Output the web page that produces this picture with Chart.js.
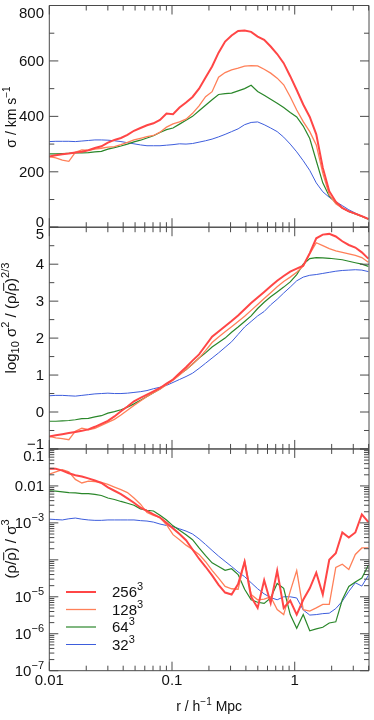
<!DOCTYPE html>
<html>
<head>
<meta charset="utf-8">
<script src="https://cdn.jsdelivr.net/npm/chart.js@4.4.1/dist/chart.umd.min.js"></script>
<style>
  html, body { margin: 0; padding: 0; background: #fff; }
  #wrap { position: relative; width: 374px; height: 720px; }
</style>
</head>
<body>
<div id="wrap"><canvas id="profiles" width="374" height="720"></canvas></div>
<script>
// radial bins, r in h^-1 Mpc
const radii = [0.01000, 0.01130, 0.01277, 0.01443, 0.01630, 0.01842, 0.02082, 0.02352, 0.02658, 0.03003,
  0.03394, 0.03835, 0.04333, 0.04897, 0.05533, 0.06252, 0.07063, 0.07980, 0.09018, 0.1019,
  0.1151, 0.1301, 0.1470, 0.1661, 0.1877, 0.2121, 0.2396, 0.2708, 0.3059, 0.3457,
  0.3906, 0.4413, 0.4987, 0.5636, 0.6368, 0.7195, 0.8130, 0.9189, 1.038, 1.173,
  1.326, 1.498, 1.693, 1.912, 2.161, 2.442, 2.759, 3.118, 3.523, 3.981];

const seriesNames = ['256', '128', '64', '32'];
const seriesColors = ['#ff4646', '#ff8059', '#2a872a', '#3d5ddc'];
const seriesWidths = [2, 1.3, 1.2, 1];

// top panel: sigma / km s^-1
const sigma256 = [255, 260, 263, 266, 270, 272, 278, 286, 292, 305, 315, 322, 333, 348, 358, 368, 375, 387, 410, 408,
  432, 450, 470, 500, 540, 580, 630, 670, 692, 708, 710, 705, 688, 676, 652, 625, 592, 545, 495, 443,
  398, 335, 215, 130, 92, 70, 57, 49, 40, 30];
const sigma128 = [255, 250, 242, 238, 270, 279, 277, 282, 285, 289, 291, 298, 306, 315, 321, 327, 331, 343, 361, 373,
  380, 390, 411, 438, 471, 489, 541, 558, 568, 574, 581, 583, 582, 570, 556, 538, 514, 471, 423, 381,
  345, 297, 195, 117, 85, 69, 57, 48, 39, 29];
const sigma64 = [265, 265, 266, 267, 268, 268, 269, 272, 274, 282, 287, 293, 300, 308, 314, 322, 330, 342, 352, 358,
  372, 386, 400, 420, 440, 460, 479, 482, 484, 492, 500, 512, 490, 476, 462, 447, 432, 414, 398, 365,
  320, 240, 160, 112, 88, 69, 57, 48, 39, 29];
const sigma32 = [309, 310, 310, 310, 309, 311, 313, 315, 315, 314, 312, 309, 305, 301, 297, 294, 294, 294, 296, 298,
  301, 300, 302, 307, 312, 318, 326, 335, 345, 355, 370, 378, 380, 370, 358, 345, 325, 300, 272, 240,
  205, 160, 128, 108, 92, 78, 63, 51, 40, 30];

// middle panel: log10 sigma^2 / (rho/rhobar)^(2/3)
const logS256 = [-0.66, -0.63, -0.60, -0.57, -0.54, -0.51, -0.47, -0.40, -0.32, -0.24, -0.12, 0.02, 0.15, 0.29, 0.38, 0.47, 0.56, 0.65, 0.77, 0.88,
  1.05, 1.21, 1.39, 1.56, 1.80, 2.04, 2.18, 2.32, 2.46, 2.61, 2.78, 2.95, 3.10, 3.25, 3.40, 3.55, 3.68, 3.80, 3.88, 3.96,
  4.30, 4.70, 4.80, 4.82, 4.75, 4.62, 4.52, 4.45, 4.32, 4.15];
const logS128 = [-0.66, -0.70, -0.72, -0.75, -0.52, -0.44, -0.48, -0.44, -0.36, -0.28, -0.20, -0.08, 0.05, 0.18, 0.30, 0.42, 0.52, 0.62, 0.74, 0.86,
  1.00, 1.15, 1.30, 1.46, 1.66, 1.88, 2.03, 2.17, 2.31, 2.45, 2.59, 2.75, 2.91, 3.07, 3.23, 3.39, 3.53, 3.65, 3.78, 3.95,
  4.28, 4.58, 4.50, 4.42, 4.36, 4.32, 4.28, 4.24, 4.18, 4.05];
const logS64 = [-0.25, -0.25, -0.24, -0.23, -0.21, -0.18, -0.17, -0.13, -0.10, -0.03, 0.01, 0.06, 0.13, 0.22, 0.32, 0.42, 0.52, 0.62, 0.75, 0.88,
  1.02, 1.14, 1.30, 1.46, 1.60, 1.76, 1.88, 2.00, 2.16, 2.30, 2.45, 2.60, 2.80, 2.97, 3.12, 3.25, 3.38, 3.52, 3.72, 4.00,
  4.15, 4.18, 4.17, 4.16, 4.14, 4.12, 4.08, 4.04, 4.00, 3.94];
const logS32 = [0.44, 0.45, 0.45, 0.44, 0.43, 0.45, 0.47, 0.49, 0.50, 0.51, 0.50, 0.50, 0.51, 0.53, 0.55, 0.58, 0.63, 0.67, 0.72, 0.80,
  0.88, 0.96, 1.05, 1.18, 1.32, 1.46, 1.60, 1.75, 1.90, 2.10, 2.30, 2.45, 2.60, 2.72, 2.90, 3.05, 3.22, 3.38, 3.55, 3.65,
  3.70, 3.72, 3.75, 3.78, 3.81, 3.83, 3.84, 3.85, 3.84, 3.80];

// bottom panel: (rho/rhobar) / sigma^3
const ratio256 = [2.9e-2, 2.9e-2, 2.6e-2, 2.2e-2, 1.95e-2, 1.8e-2, 1.6e-2, 1.4e-2, 1.2e-2, 9.1e-3,
  7.4e-3, 6.0e-3, 4.6e-3, 3.5e-3, 2.6e-3, 2.1e-3, 1.7e-3, 1.4e-3, 1.0e-3, 7.1e-4,
  5.0e-4, 3.4e-4, 1.9e-4, 1.07e-4, 6.5e-5, 3.8e-5, 2.1e-5, 1.3e-5, 1.15e-5, 2.2e-5,
  8.9e-5, 1.0e-5, 5.0e-6, 2.8e-5, 6.8e-6, 5.1e-5, 5.0e-6, 7.9e-6, 3.3e-6, 8.3e-6,
  1.7e-5, 4.5e-5, 1.15e-5, 1.0e-4, 1.5e-4, 5.5e-4, 4.0e-4, 5.5e-4, 1.7e-3, 1.05e-3];
const ratio128 = [2.1e-2, 2.4e-2, 2.75e-2, 2.4e-2, 1.5e-2, 1.2e-2, 1.35e-2, 1.3e-2, 1.25e-2, 1.1e-2,
  9.3e-3, 7.9e-3, 6.6e-3, 4.7e-3, 3.2e-3, 1.9e-3, 1.6e-3, 1.4e-3, 8.9e-4, 4.8e-4,
  3.5e-4, 2.5e-4, 1.9e-4, 1.4e-4, 8.9e-5, 5.2e-5, 3.2e-5, 1.9e-5, 1.65e-5, 1.6e-5,
  9.3e-5, 1.15e-5, 8.3e-6, 8.7e-6, 1.0e-5, 4.5e-6, 3.3e-6, 1.4e-5, 5.1e-5, 4.5e-6,
  4.1e-6, 5.0e-6, 6.2e-6, 6.2e-6, 6.2e-5, 7.6e-5, 5.5e-5, 1.4e-4, 2.1e-4, 2.1e-4];
const ratio64 = [7.4e-3, 7.2e-3, 6.9e-3, 6.6e-3, 6.5e-3, 6.2e-3, 6.2e-3, 5.9e-3, 5.5e-3, 4.7e-3,
  4.3e-3, 3.8e-3, 3.4e-3, 3.0e-3, 2.4e-3, 2.2e-3, 2.1e-3, 1.6e-3, 1.2e-3, 8.3e-4,
  6.3e-4, 4.8e-4, 3.5e-4, 2.1e-4, 1.3e-4, 8.3e-5, 6.6e-5, 5.2e-5, 5.75e-5, 4.0e-5,
  1.6e-5, 8.3e-6, 7.1e-6, 6.6e-6, 9.3e-6, 2.3e-5, 1.7e-5, 3.3e-6, 1.4e-6, 3.3e-6,
  1.2e-6, 1.35e-6, 1.5e-6, 1.95e-6, 2.1e-6, 8.3e-6, 1.9e-5, 2.5e-5, 3.2e-5, 7.1e-5];
const ratio32 = [1.26e-3, 1.23e-3, 1.2e-3, 1.29e-3, 1.35e-3, 1.26e-3, 1.2e-3, 1.17e-3, 1.17e-3, 1.2e-3,
  1.2e-3, 1.2e-3, 1.2e-3, 1.2e-3, 1.15e-3, 1.12e-3, 1.05e-3, 9.3e-4, 8.5e-4, 7.9e-4,
  6.9e-4, 6.0e-4, 5.0e-4, 3.7e-4, 2.6e-4, 1.8e-4, 1.26e-4, 9.1e-5, 6.6e-5, 4.7e-5,
  3.5e-5, 2.4e-5, 1.65e-5, 1.2e-5, 9.5e-6, 8.3e-6, 1.0e-5, 1.0e-5, 9.3e-6, 4.4e-6,
  3.2e-6, 3.3e-6, 3.5e-6, 3.6e-6, 4.8e-6, 7.6e-6, 1.4e-5, 2.4e-5, 1.95e-5, 3.8e-5];

// tick values and labels
const rTicks = [0.01, 0.1, 1];
const rTickLabels = ['0.01', '0.1', '1'];
const rMinorTicks = [0.02, 0.03, 0.04, 0.05, 0.06, 0.07, 0.08, 0.09, 0.2, 0.3, 0.4, 0.5, 0.6, 0.7, 0.8, 0.9, 2, 3, 4];
const sigmaTicks = [0, 200, 400, 600, 800];
const sigmaMinorTicks = [100, 300, 500, 700];
const logSTicks = [-1, 0, 1, 2, 3, 4, 5];
const logSMinorTicks = [-0.5, 0.5, 1.5, 2.5, 3.5, 4.5];
const ratioTicks = [1e-7, 1e-6, 1e-5, 1e-4, 1e-3, 1e-2, 1e-1];
const ratioLabelTicks = [1e-7, 1e-6, 1e-5, 1e-3, 1e-2, 1e-1];
const ratioTickLabels = [['10', '\u22127'], ['10', '\u22126'], ['10', '\u22125'], ['10', '\u22123'], ['0.01'], ['0.1']];

const FONT = '"Liberation Sans", Arial, Helvetica, sans-serif';
const AXIS_COLOR = '#4a4a4a';
const TEXT_COLOR = '#111';
const TICK_FONT = 15;

// segments: [text, kind] with kind '' | 'sup' | 'sub' | 'bar'
function drawSegs(ctx, segs, x, y, size, align) {
  const parts = segs.map(([text, kind]) => {
    const fs = (kind === 'sup' || kind === 'sub') ? Math.round(size * 0.7) : size;
    ctx.font = fs + 'px ' + FONT;
    return { text, kind, fs, w: ctx.measureText(text).width };
  });
  const total = parts.reduce((a, p) => a + p.w, 0);
  let cx = align === 'right' ? x - total : (align === 'center' ? x - total / 2 : x);
  ctx.textAlign = 'left';
  ctx.textBaseline = 'alphabetic';
  for (const p of parts) {
    ctx.font = p.fs + 'px ' + FONT;
    let dy = 0;
    if (p.kind === 'sup') dy = -size * 0.45;
    if (p.kind === 'sub') dy = size * 0.22;
    ctx.fillText(p.text, cx, y + dy);
    if (p.kind === 'bar') {
      ctx.beginPath();
      ctx.lineWidth = 1;
      ctx.strokeStyle = TEXT_COLOR;
      ctx.moveTo(cx + 0.5, y - size * 0.82);
      ctx.lineTo(cx + p.w, y - size * 0.82);
      ctx.stroke();
    }
    cx += p.w;
  }
}

const panels = [
  { id: 'ySig', major: sigmaTicks, minor: sigmaMinorTicks, labels: sigmaTicks, text: sigmaTicks.map(v => [[String(v)]]), last: false },
  { id: 'yLog', major: logSTicks, minor: logSMinorTicks, labels: logSTicks, text: logSTicks.map(v => [[v < 0 ? '\u2212' + (-v) : String(v)]]), last: false },
  { id: 'yRat', major: ratioTicks, minor: [], labels: ratioLabelTicks, text: ratioTickLabels.map(l => l.length > 1 ? [[l[0], ''], [l[1], 'sup']] : [[l[0], '']]), last: true }
];
for (let e = -7; e < -1; e++) {
  for (let m = 2; m <= 9; m++) panels[2].minor.push(m * Math.pow(10, e));
}

const yTitles = [
  { id: 'ySig', cy: 117, size: 14, segs: [['\u03c3 / km s', ''], ['\u22121', 'sup']] },
  { id: 'yLog', cy: 318, size: 15, segs: [['log', ''], ['10', 'sub'], [' \u03c3', ''], ['2', 'sup'], [' / (\u03c1/', ''], ['\u03c1', 'bar'], [')', ''], ['2/3', 'sup']] },
  { id: 'yRat', cy: 549, size: 15, segs: [['(\u03c1/', ''], ['\u03c1', 'bar'], [') / \u03c3', ''], ['3', 'sup']] }
];

const framePlugin = {
  id: 'frame',
  afterDatasetsDraw(chart) {
    const ctx = chart.ctx;
    const xs = chart.scales.x;
    const { left, right } = chart.chartArea;
    ctx.save();
    ctx.strokeStyle = AXIS_COLOR;
    ctx.lineWidth = 1;
    const seg = (x1, y1, x2, y2) => { ctx.moveTo(x1, y1); ctx.lineTo(x2, y2); };
    for (const p of panels) {
      const ys = chart.scales[p.id];
      const top = ys.top, bottom = ys.bottom;
      ctx.beginPath();
      ctx.rect(left, top, right - left, bottom - top);
      rTicks.forEach(v => { const px = xs.getPixelForValue(v); seg(px, bottom, px, bottom - 9); seg(px, top, px, top + 9); });
      rMinorTicks.forEach(v => { const px = xs.getPixelForValue(v); seg(px, bottom, px, bottom - 5); seg(px, top, px, top + 5); });
      p.major.forEach(v => { const py = ys.getPixelForValue(v); seg(left, py, left + 9, py); seg(right, py, right - 9, py); });
      p.minor.forEach(v => { const py = ys.getPixelForValue(v); seg(left, py, left + 5, py); seg(right, py, right - 5, py); });
      ctx.stroke();
    }
    ctx.restore();
  },
  afterDraw(chart) {
    const ctx = chart.ctx;
    const xs = chart.scales.x;
    const { left, right, bottom } = chart.chartArea;
    ctx.save();
    ctx.fillStyle = TEXT_COLOR;
    // y tick labels
    for (const p of panels) {
      const ys = chart.scales[p.id];
      p.labels.forEach((v, i) => {
        const py = ys.getPixelForValue(v);
        let base = py + 5;
        if (Math.abs(py - ys.top) < 1) base = py + 12;
        else if (Math.abs(py - ys.bottom) < 1 && !p.last) base = py;
        drawSegs(ctx, p.text[i], 44, base, TICK_FONT, 'right');
      });
    }
    // x tick labels
    rTicks.forEach((v, i) => {
      drawSegs(ctx, [[rTickLabels[i], '']], xs.getPixelForValue(v), bottom + 14, TICK_FONT, 'center');
    });
    // axis titles
    drawSegs(ctx, [['r / h', ''], ['\u22121', 'sup'], [' Mpc', '']], (left + right) / 2, 711, 14, 'center');
    for (const t of yTitles) {
      ctx.save();
      ctx.translate(16, t.cy);
      ctx.rotate(-Math.PI / 2);
      drawSegs(ctx, t.segs, 0, 0, t.size, 'center');
      ctx.restore();
    }
    // legend
    seriesNames.forEach((name, i) => {
      const yy = 592 + i * 17.5;
      ctx.beginPath();
      ctx.strokeStyle = seriesColors[i];
      ctx.lineWidth = seriesWidths[i];
      ctx.moveTo(66, yy);
      ctx.lineTo(96, yy);
      ctx.stroke();
      drawSegs(ctx, [[name, ''], ['3', 'sup']], 112, yy + 5, TICK_FONT, 'left');
    });
    ctx.restore();
  }
};

const panelData = [
  { axis: 'ySig', series: [sigma256, sigma128, sigma64, sigma32] },
  { axis: 'yLog', series: [logS256, logS128, logS64, logS32] },
  { axis: 'yRat', series: [ratio256, ratio128, ratio64, ratio32] }
];

const datasets = [];
panelData.forEach(pd => {
  pd.series.forEach((vals, s) => {
    datasets.push({
      label: seriesNames[s] + '^3 ' + pd.axis,
      data: radii.map((r, i) => ({ x: r, y: vals[i] })),
      yAxisID: pd.axis,
      borderColor: seriesColors[s],
      borderWidth: seriesWidths[s],
      pointRadius: 0,
      tension: 0,
      fill: false
    });
  });
});

const hiddenAxis = { ticks: { display: false }, grid: { display: false }, border: { display: false } };

new Chart(document.getElementById('profiles').getContext('2d'), {
  type: 'line',
  data: { datasets },
  options: {
    responsive: false,
    animation: false,
    events: [],
    layout: { padding: { left: 0, right: 5, top: 5.5, bottom: 0 } },
    plugins: { legend: { display: false }, tooltip: { enabled: false } },
    scales: {
      x: Object.assign({ type: 'logarithmic', position: 'bottom', min: 0.01, max: 4.03,
        afterFit: s => { s.height = 49.3; } }, hiddenAxis),
      ySig: Object.assign({ type: 'linear', position: 'left', stack: 'panels', stackWeight: 1, weight: 3,
        min: 0, max: 800, afterFit: s => { s.width = 49.3; } }, hiddenAxis),
      yLog: Object.assign({ type: 'linear', position: 'left', stack: 'panels', stackWeight: 1, weight: 2,
        min: -1, max: 5, afterFit: s => { s.width = 49.3; } }, hiddenAxis),
      yRat: Object.assign({ type: 'logarithmic', position: 'left', stack: 'panels', stackWeight: 1, weight: 1,
        min: 1e-7, max: 1e-1, afterFit: s => { s.width = 49.3; } }, hiddenAxis)
    }
  },
  plugins: [framePlugin]
});
</script>
</body>
</html>
